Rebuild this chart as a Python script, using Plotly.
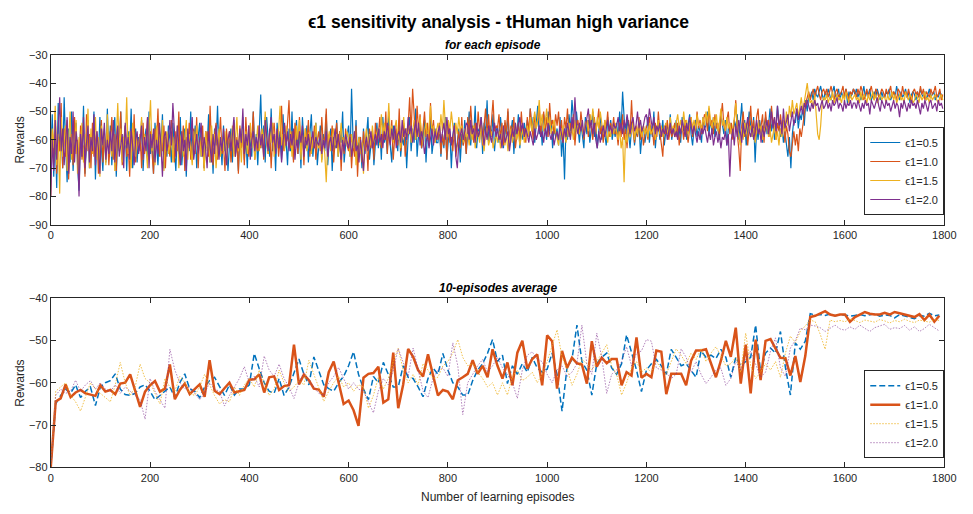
import plotly.graph_objects as go

# ---------------- data ----------------
labels = ["ϵ1=0.5", "ϵ1=1.0", "ϵ1=1.5", "ϵ1=2.0"]

# per-episode rewards (sampled every 3 episodes)
top_step = 3
top_e05 = [
-66,-51,-73,-58,-77,-47,-64,-55,-70,-45,-62,-75,-56,-68,-50,-71,-60,-54,-69,-78,
-57,-66,-48,-72,-61,-53,-70,-59,-64,-50,-74,-58,-67,-52,-63,-71,-56,-68,-49,-65,
-55,-69,-60,-52,-73,-58,-64,-50,-67,-61,-55,-71,-57,-63,-49,-70,-62,-56,-68,-59,
-64,-53,-71,-60,-56,-67,-50,-65,-58,-72,-54,-62,-69,-57,-63,-51,-70,-59,-66,-55,
-60,-68,-54,-63,-71,-57,-65,-52,-69,-61,-56,-73,-58,-64,-50,-67,-62,-55,-70,-59,
-54,-66,-61,-70,-57,-63,-51,-68,-59,-72,-56,-62,-48,-65,-60,-69,-55,-64,-58,-71,
-62,-56,-68,-53,-65,-60,-71,-57,-63,-52,-67,-59,-70,-55,-61,-66,-50,-64,-58,-69,
-57,-44,-63,-55,-68,-52,-60,-66,-49,-64,-58,-71,-54,-62,-57,-67,-51,-63,-60,-69,
-56,-64,-50,-67,-59,-53,-65,-57,-70,-52,-61,-63,-55,-68,-58,-51,-66,-60,-54,-69,
-62,-55,-67,-58,-64,-51,-69,-60,-56,-71,-59,-63,-53,-66,-57,-61,-50,-68,-62,-58,
-55,-66,-42,-60,-64,-53,-68,-59,-62,-70,-56,-65,-58,-52,-67,-61,-57,-69,-60,-54,
-63,-56,-67,-52,-61,-58,-65,-50,-62,-68,-55,-60,-57,-64,-53,-66,-59,-62,-56,-70,
-59,-52,-64,-56,-61,-49,-66,-58,-55,-63,-60,-53,-68,-57,-62,-51,-65,-59,-56,-61,
-61,-55,-66,-58,-63,-52,-67,-60,-57,-70,-59,-54,-64,-61,-56,-68,-58,-62,-53,-65,
-57,-50,-62,-55,-59,-48,-63,-56,-60,-52,-65,-54,-58,-46,-61,-55,-59,-51,-64,-57,
-55,-61,-52,-58,-63,-54,-60,-50,-62,-57,-53,-65,-56,-59,-51,-63,-55,-60,-54,-58,
-53,-59,-49,-57,-52,-61,-55,-48,-58,-54,-62,-51,-56,-60,-50,-57,-53,-63,-55,-59,
-56,-62,-52,-66,-58,-74,-55,-60,-51,-57,-46,-53,-59,-50,-56,-61,-54,-58,-63,-52,
-58,-53,-61,-56,-50,-59,-54,-63,-57,-51,-60,-55,-58,-62,-52,-57,-53,-60,-56,-59,
-54,-60,-50,-57,-43,-55,-61,-52,-58,-63,-56,-53,-62,-57,-59,-54,-65,-58,-55,-61,
-57,-52,-61,-55,-59,-50,-63,-56,-54,-60,-58,-53,-62,-57,-55,-59,-51,-60,-56,-58,
-53,-59,-56,-61,-52,-57,-54,-60,-55,-51,-58,-62,-56,-53,-59,-55,-57,-61,-52,-56,
-55,-50,-58,-53,-57,-52,-59,-54,-56,-60,-51,-55,-58,-53,-62,-56,-54,-57,-59,-53,
-56,-51,-60,-54,-47,-58,-53,-62,-57,-50,-55,-59,-52,-68,-56,-60,-53,-57,-61,-55,
-52,-58,-55,-49,-57,-53,-60,-56,-48,-54,-59,-55,-61,-57,-63,-66,-59,-70,-58,-53,
-54,-49,-56,-51,-53,-48,-55,-46,-50,-44,-45,-43,-46,-42,-44,-45,-43,-41,-44,-46,
-43,-45,-42,-44,-46,-43,-41,-45,-44,-42,-46,-43,-45,-44,-42,-47,-43,-45,-44,-42,
-44,-42,-45,-43,-46,-44,-41,-45,-43,-44,-42,-46,-44,-43,-45,-42,-44,-46,-43,-45,
-45,-43,-44,-42,-46,-44,-43,-45,-41,-44,-46,-43,-45,-44,-42,-45,-43,-47,-44,-43,
-44,-46,-43,-45,-42,-44,-45,-43,-46,-44,-42,-45,-44,-43,-46,-44,-45,-43,-44,-45,
]
top_e10 = [
-80,-57,-68,-50,-72,-59,-64,-47,-70,-56,-66,-53,-74,-61,-58,-69,-52,-65,-60,-71,
-55,-67,-62,-73,-51,-64,-58,-70,-54,-66,-60,-57,-72,-63,-53,-68,-59,-65,-56,-69,
-61,-52,-67,-58,-71,-56,-63,-50,-69,-60,-55,-66,-62,-73,-57,-64,-51,-68,-59,-63,
-58,-70,-54,-65,-60,-52,-67,-57,-63,-72,-56,-61,-49,-66,-59,-64,-55,-70,-58,-62,
-66,-53,-61,-68,-57,-64,-50,-69,-62,-55,-71,-59,-63,-54,-67,-60,-56,-65,-52,-70,
-59,-64,-55,-70,-61,-57,-66,-48,-63,-69,-58,-54,-67,-60,-52,-65,-62,-71,-56,-63,
-57,-68,-61,-54,-66,-59,-72,-55,-63,-58,-69,-52,-62,-66,-57,-60,-50,-67,-61,-64,
-55,-63,-58,-67,-52,-61,-65,-56,-70,-59,-54,-62,-57,-66,-60,-48,-64,-58,-62,-55,
-46,-63,-57,-68,-54,-60,-65,-52,-62,-58,-69,-56,-61,-53,-66,-59,-63,-55,-67,-60,
-57,-64,-52,-62,-59,-49,-66,-58,-61,-55,-68,-60,-54,-63,-57,-71,-59,-65,-56,-62,
-64,-58,-70,-61,-66,-55,-73,-62,-59,-68,-57,-64,-60,-71,-56,-63,-58,-67,-54,-61,
-58,-52,-63,-57,-60,-50,-65,-55,-61,-53,-67,-59,-56,-62,-49,-64,-58,-54,-66,-60,
-55,-45,-58,-42,-53,-60,-48,-57,-51,-63,-56,-50,-59,-54,-62,-47,-58,-53,-61,-56,
-60,-54,-65,-58,-62,-56,-67,-53,-61,-59,-64,-55,-66,-60,-57,-63,-52,-62,-58,-65,
-52,-58,-48,-56,-61,-54,-59,-50,-57,-53,-62,-55,-49,-58,-51,-60,-54,-46,-57,-55,
-56,-51,-60,-54,-62,-53,-58,-49,-61,-55,-59,-52,-63,-57,-54,-60,-50,-58,-56,-61,
-52,-57,-49,-55,-60,-51,-56,-53,-48,-58,-54,-50,-57,-52,-59,-47,-55,-53,-58,-51,
-55,-50,-58,-53,-61,-52,-56,-49,-59,-54,-57,-51,-62,-55,-53,-58,-50,-56,-60,-54,
-53,-59,-51,-56,-60,-52,-57,-54,-49,-58,-55,-61,-53,-56,-50,-59,-54,-57,-52,-58,
-57,-62,-54,-59,-51,-60,-56,-63,-53,-58,-46,-57,-61,-55,-59,-52,-60,-56,-62,-58,
-55,-60,-52,-58,-56,-62,-54,-59,-50,-57,-61,-66,-55,-58,-53,-60,-56,-59,-57,-54,
-59,-54,-62,-57,-55,-60,-53,-58,-61,-56,-52,-59,-55,-57,-50,-56,-53,-58,-54,-51,
-52,-57,-49,-55,-53,-58,-51,-56,-54,-59,-52,-47,-55,-57,-53,-50,-58,-54,-60,-52,
-46,-58,-63,-71,-55,-50,-59,-54,-62,-56,-48,-57,-53,-60,-52,-49,-58,-55,-51,-61,
-50,-56,-53,-59,-48,-55,-52,-60,-54,-57,-51,-56,-53,-61,-55,-58,-64,-66,-60,-57,
-62,-58,-64,-56,-59,-55,-50,-47,-45,-43,-46,-44,-42,-45,-43,-41,-44,-46,-43,-42,
-44,-42,-45,-43,-41,-44,-46,-43,-42,-45,-44,-43,-41,-45,-42,-44,-46,-43,-44,-42,
-43,-45,-42,-44,-41,-43,-46,-44,-42,-45,-43,-41,-44,-46,-42,-43,-45,-44,-42,-43,
-45,-42,-44,-43,-41,-45,-43,-44,-46,-42,-43,-45,-41,-44,-43,-45,-42,-44,-47,-43,
-42,-44,-43,-45,-41,-44,-42,-46,-43,-44,-45,-42,-44,-43,-41,-45,-44,-42,-46,-44,
]
top_e15 = [
-74,-56,-63,-48,-69,-58,-79,-52,-66,-60,-55,-71,-62,-50,-67,-57,-64,-53,-72,-59,
-61,-54,-68,-58,-63,-49,-70,-56,-65,-60,-52,-67,-59,-73,-55,-62,-57,-69,-51,-64,
-58,-66,-53,-71,-60,-47,-64,-56,-68,-59,-62,-45,-65,-57,-70,-54,-61,-66,-58,-63,
-60,-52,-67,-58,-63,-70,-56,-46,-64,-59,-69,-55,-62,-58,-66,-53,-71,-60,-57,-65,
-62,-56,-68,-59,-64,-55,-70,-61,-57,-66,-60,-53,-67,-58,-63,-69,-57,-62,-55,-65,
-59,-66,-61,-71,-57,-64,-60,-68,-55,-63,-58,-70,-62,-56,-66,-59,-64,-57,-69,-61,
-58,-63,-55,-66,-60,-52,-64,-59,-68,-56,-62,-57,-65,-60,-54,-63,-58,-67,-61,-55,
-64,-59,-56,-62,-50,-60,-65,-57,-61,-54,-66,-59,-63,-57,-48,-62,-58,-64,-55,-60,
-61,-57,-66,-59,-63,-55,-60,-53,-67,-58,-62,-56,-64,-60,-57,-65,-59,-62,-54,-61,
-63,-58,-68,-60,-65,-75,-61,-57,-64,-59,-56,-62,-58,-66,-60,-54,-63,-59,-61,-57,
-60,-66,-58,-63,-57,-69,-62,-59,-65,-61,-72,-60,-56,-64,-58,-62,-55,-61,-59,-57,
-56,-62,-51,-58,-54,-60,-57,-47,-59,-55,-61,-56,-53,-60,-58,-63,-57,-52,-59,-56,
-58,-55,-61,-57,-53,-60,-56,-59,-52,-58,-62,-57,-54,-60,-56,-48,-58,-55,-61,-57,
-54,-58,-51,-57,-46,-55,-59,-53,-57,-50,-56,-60,-54,-58,-52,-57,-55,-61,-56,-59,
-58,-62,-56,-60,-55,-63,-59,-57,-61,-54,-60,-64,-58,-56,-62,-59,-57,-63,-60,-58,
-61,-57,-63,-59,-55,-62,-58,-64,-60,-56,-61,-58,-54,-60,-57,-62,-59,-56,-61,-58,
-55,-59,-52,-57,-54,-50,-56,-53,-46,-55,-51,-57,-54,-49,-56,-52,-58,-55,-53,-57,
-59,-62,-56,-60,-55,-58,-61,-57,-54,-59,-56,-60,-53,-57,-55,-58,-54,-56,-59,-55,
-53,-57,-51,-55,-49,-54,-58,-52,-56,-50,-55,-58,-53,-57,-61,-56,-59,-55,-58,-54,
-57,-60,-56,-63,-59,-75,-58,-61,-55,-59,-57,-54,-60,-56,-58,-53,-57,-59,-55,-58,
-56,-59,-54,-58,-57,-55,-60,-56,-53,-58,-55,-59,-57,-54,-58,-56,-52,-57,-55,-59,
-54,-51,-56,-53,-57,-50,-55,-53,-58,-54,-52,-56,-53,-57,-51,-55,-54,-56,-52,-55,
-50,-54,-48,-53,-56,-52,-55,-51,-57,-54,-49,-55,-53,-57,-52,-56,-54,-58,-55,-53,
-47,-55,-58,-62,-56,-60,-54,-58,-53,-57,-55,-59,-56,-61,-57,-54,-58,-55,-60,-56,
-57,-54,-59,-56,-61,-58,-55,-60,-57,-62,-56,-59,-53,-57,-50,-55,-48,-52,-46,-51,
-49,-47,-52,-48,-45,-50,-46,-44,-40,-45,-47,-46,-49,-44,-52,-58,-60,-55,-47,-45,
-46,-44,-47,-45,-46,-43,-47,-45,-44,-46,-45,-47,-44,-46,-43,-45,-47,-44,-46,-45,
-44,-46,-45,-47,-43,-46,-44,-45,-47,-44,-46,-45,-43,-46,-44,-47,-45,-44,-46,-45,
-45,-47,-44,-46,-45,-43,-46,-44,-47,-45,-44,-46,-45,-47,-43,-45,-46,-44,-45,-47,
-46,-44,-45,-47,-44,-46,-45,-43,-46,-45,-47,-44,-46,-45,-44,-46,-47,-45,-44,-46,
]
top_e20 = [
-80,-60,-71,-53,-67,-58,-45,-64,-56,-69,-61,-52,-72,-59,-65,-50,-68,-57,-63,-80,
-58,-66,-52,-70,-61,-55,-68,-59,-64,-51,-69,-57,-63,-72,-56,-62,-54,-67,-60,-65,
-57,-64,-53,-68,-60,-55,-66,-61,-58,-70,-54,-63,-59,-67,-56,-62,-69,-60,-57,-65,
-61,-55,-67,-59,-64,-52,-70,-58,-63,-56,-68,-60,-65,-54,-62,-73,-59,-57,-64,-60,
-53,-62,-47,-58,-66,-55,-61,-69,-57,-64,-60,-71,-56,-63,-59,-52,-67,-61,-58,-65,
-60,-54,-66,-59,-63,-70,-57,-62,-68,-58,-65,-55,-61,-67,-59,-64,-56,-62,-69,-60,
-57,-64,-59,-52,-66,-60,-63,-56,-61,-49,-65,-58,-62,-55,-67,-60,-57,-64,-59,-63,
-55,-62,-58,-66,-53,-60,-64,-57,-52,-61,-58,-65,-56,-63,-59,-68,-60,-54,-62,-57,
-64,-58,-62,-56,-67,-60,-63,-57,-61,-55,-66,-59,-62,-58,-64,-60,-57,-63,-59,-61,
-62,-58,-65,-60,-63,-57,-66,-61,-59,-64,-60,-56,-63,-58,-62,-67,-60,-64,-58,-61,
-63,-59,-66,-61,-57,-64,-62,-68,-60,-65,-71,-62,-59,-64,-61,-57,-63,-60,-58,-62,
-56,-61,-58,-63,-57,-60,-54,-59,-62,-56,-60,-55,-63,-58,-57,-61,-53,-59,-56,-60,
-52,-58,-55,-61,-56,-53,-59,-54,-62,-57,-60,-65,-61,-58,-63,-59,-56,-62,-57,-60,
-58,-55,-61,-57,-54,-60,-52,-58,-56,-62,-59,-55,-66,-70,-61,-58,-56,-60,-57,-54,
-55,-60,-53,-58,-56,-61,-54,-59,-57,-52,-58,-62,-56,-60,-55,-58,-61,-57,-54,-59,
-56,-60,-58,-63,-55,-61,-59,-57,-64,-60,-56,-59,-54,-58,-55,-52,-57,-54,-59,-56,
-58,-61,-57,-59,-62,-56,-60,-58,-55,-59,-57,-61,-56,-59,-54,-58,-60,-57,-62,-59,
-57,-60,-55,-58,-61,-56,-59,-54,-57,-60,-52,-56,-45,-55,-58,-54,-57,-53,-59,-56,
-52,-49,-56,-53,-58,-54,-60,-63,-57,-61,-58,-55,-59,-56,-53,-57,-55,-58,-54,-56,
-55,-52,-57,-54,-58,-53,-56,-51,-55,-58,-54,-52,-57,-55,-50,-56,-53,-57,-55,-52,
-51,-55,-49,-53,-56,-52,-58,-55,-57,-54,-59,-56,-58,-55,-60,-57,-54,-58,-56,-59,
-57,-60,-55,-58,-53,-56,-59,-54,-57,-52,-56,-58,-55,-59,-61,-57,-60,-56,-58,-55,
-58,-61,-57,-60,-56,-62,-59,-57,-61,-58,-63,-59,-60,-57,-62,-58,-73,-60,-56,-62,
-55,-59,-53,-57,-61,-54,-58,-56,-52,-57,-59,-55,-60,-57,-53,-58,-56,-61,-55,-59,
-56,-53,-58,-54,-50,-56,-52,-57,-48,-55,-53,-58,-49,-56,-54,-51,-57,-53,-50,-55,
-52,-49,-53,-50,-48,-51,-47,-49,-46,-48,-50,-47,-49,-46,-48,-47,-50,-48,-46,-49,
-48,-46,-49,-47,-50,-46,-48,-47,-45,-49,-47,-48,-50,-46,-49,-47,-48,-46,-49,-47,
-47,-49,-46,-48,-50,-47,-49,-46,-48,-47,-51,-46,-48,-49,-47,-45,-48,-50,-46,-48,
-49,-46,-48,-47,-50,-48,-46,-49,-47,-48,-52,-47,-49,-46,-48,-50,-47,-49,-46,-48,
-47,-49,-46,-48,-51,-47,-49,-46,-48,-50,-47,-46,-49,-48,-47,-50,-46,-48,-47,-49,
]

# 10-episode averages
avg_step = 10
avg_e05 = [
-80,-65.0,-63.0,-61.5,-62.5,-60.5,-63.5,-62.0,-61.0,-65.4,
-61.0,-60.0,-59.5,-57.9,-61.5,-62.8,-63.0,-62.5,-61.0,-60.5,
-62.0,-64.0,-63.0,-62.0,-61.0,-63.5,-60.0,-57.9,-61.5,-62.0,
-63.5,-61.0,-59.5,-58.7,-61.0,-63.0,-60.5,-62.9,-61.5,-61.5,
-60.5,-53.1,-56.7,-60.0,-62.0,-62.5,-59.0,-63.0,-61.0,-57.5,
-54.4,-58.0,-60.5,-53.9,-57.0,-60.5,-61.4,-62.0,-60.0,-58.5,
-56.0,-52.7,-58.0,-61.5,-64.0,-58.5,-60.0,-55.2,-58.0,-61.0,
-61.0,-56.0,-58.7,-59.0,-61.0,-63.3,-59.0,-56.5,-58.0,-53.1,
-57.0,-60.0,-61.0,-62.9,-62.9,-59.5,-57.0,-55.5,-53.0,-49.8,
-55.0,-53.5,-60.2,-56.0,-58.0,-55.5,-57.5,-54.0,-56.5,-57.5,
-56.8,-53.0,-58.0,-66.7,-56.5,-54.5,-46.4,-55.0,-57.0,-62.9,
-55.5,-54.0,-53.0,-56.5,-58.0,-55.5,-48.7,-53.0,-57.0,-62.1,
-57.0,-55.5,-54.5,-56.0,-58.0,-52.1,-54.0,-56.0,-55.5,-57.0,
-58.7,-52.5,-54.0,-53.5,-54.3,-52.1,-54.0,-58.7,-54.0,-56.0,
-55.0,-54.0,-46.4,-57.5,-53.0,-51.8,-53.0,-47.9,-56.4,-62.9,
-50.6,-52.1,-50.2,-43.7,-44.0,-43.9,-44.1,-43.8,-44.2,-44.0,
-44.0,-44.3,-44.1,-43.9,-44.2,-44.0,-43.7,-44.3,-44.0,-44.1,
-44.7,-43.9,-44.2,-44.5,-44.9,-44.1,-44.3,-43.6,-44.2,-44.0,
]
avg_e10 = [
-80,-64.4,-63.7,-60.4,-63.4,-62.3,-61.7,-62.5,-62.8,-63.1,
-60.6,-62.1,-61.7,-62.7,-60.2,-60.0,-58.0,-62.0,-65.7,-62.1,
-60.6,-59.6,-62.1,-61.4,-55.7,-63.9,-61.7,-60.2,-62.7,-61.5,
-60.4,-63.3,-54.7,-61.9,-62.7,-61.3,-60.0,-62.3,-62.0,-61.7,
-59.3,-59.2,-58.0,-62.3,-58.7,-58.5,-61.7,-60.8,-60.6,-51.0,
-60.4,-58.1,-59.4,-61.4,-61.6,-63.3,-57.5,-55.0,-60.0,-65.0,
-64.2,-66.5,-70.2,-58.8,-57.9,-57.7,-56.2,-64.7,-63.9,-52.9,
-66.0,-60.4,-52.0,-53.9,-57.0,-58.5,-53.3,-57.9,-63.0,-61.7,
-62.1,-63.9,-59.4,-58.7,-57.9,-54.7,-57.9,-56.0,-58.7,-52.1,
-56.0,-59.0,-55.2,-60.6,-52.9,-50.1,-56.7,-54.4,-53.3,-60.6,
-48.8,-50.2,-61.4,-52.5,-56.5,-54.1,-55.4,-55.7,-60.2,-50.2,
-56.2,-54.1,-55.4,-54.4,-54.4,-60.6,-57.5,-58.3,-49.3,-58.8,
-57.9,-58.7,-52.4,-52.7,-62.7,-57.9,-57.9,-57.9,-60.6,-54.8,
-52.4,-52.4,-52.1,-55.6,-58.7,-54.8,-50.1,-53.9,-47.0,-60.2,
-51.0,-62.5,-49.8,-59.4,-50.1,-49.7,-52.1,-54.1,-54.2,-58.3,
-53.7,-59.8,-53.7,-44.5,-44.2,-43.7,-43.1,-43.9,-44.2,-43.9,
-43.9,-45.6,-44.5,-43.9,-43.3,-43.7,-43.9,-43.9,-43.5,-43.9,
-43.3,-43.6,-43.9,-44.1,-44.5,-43.8,-45.2,-43.9,-45.6,-44.2,
]
avg_e15 = [
-80,-62.0,-61.0,-60.0,-63.0,-64.5,-66.7,-63.5,-60.0,-61.5,
-62.5,-63.5,-64.5,-60.5,-55.2,-60.0,-63.0,-61.0,-55.6,-59.0,
-60.0,-62.5,-65.0,-59.0,-61.0,-62.0,-58.5,-60.0,-62.5,-63.0,
-61.0,-58.0,-60.5,-63.0,-65.0,-64.0,-64.5,-61.0,-63.0,-60.5,
-59.0,-61.0,-57.0,-60.0,-63.0,-61.5,-57.0,-60.0,-62.0,-61.0,
-59.5,-60.5,-54.7,-58.0,-61.0,-64.4,-62.0,-60.0,-58.5,-61.0,
-60.0,-62.0,-60.5,-61.0,-66.0,-63.0,-58.7,-61.5,-59.0,-55.0,
-51.9,-57.0,-60.0,-58.0,-60.5,-55.5,-57.0,-59.0,-58.7,-56.0,
-55.0,-53.0,-49.8,-54.0,-56.0,-55.5,-57.5,-59.0,-61.0,-60.0,
-62.9,-60.0,-62.9,-58.5,-57.0,-59.5,-58.7,-57.5,-60.0,-58.0,
-55.0,-51.5,-47.5,-54.0,-56.7,-60.6,-58.0,-54.5,-55.5,-57.0,
-55.0,-53.0,-51.0,-56.0,-58.0,-62.9,-60.0,-56.5,-55.0,-57.5,
-56.5,-57.5,-55.0,-56.7,-58.0,-55.0,-52.0,-53.5,-55.5,-53.0,
-54.5,-52.0,-55.0,-53.0,-51.5,-53.7,-56.0,-55.5,-54.0,-57.5,
-48.3,-56.0,-59.0,-57.5,-55.5,-57.0,-55.0,-58.7,-53.0,-49.0,
-50.5,-47.9,-46.5,-45.2,-45.6,-48.5,-52.1,-45.2,-45.6,-45.3,
-45.6,-45.0,-45.3,-45.8,-45.2,-45.5,-45.7,-45.1,-45.4,-45.9,
-45.3,-45.6,-45.0,-45.5,-45.8,-45.2,-45.4,-45.7,-45.1,-45.3,
]
avg_e20 = [
-80,-63.0,-61.5,-62.5,-62.0,-59.4,-62.0,-60.5,-59.5,-61.5,
-60.0,-61.5,-62.0,-60.5,-62.5,-61.0,-62.0,-63.0,-64.0,-68.6,
-59.0,-62.0,-64.0,-66.0,-52.1,-57.0,-60.0,-61.5,-61.0,-62.5,
-64.0,-62.5,-60.0,-61.5,-62.0,-65.5,-63.0,-61.0,-59.0,-56.2,
-60.0,-58.5,-61.0,-53.7,-57.0,-58.5,-55.6,-59.0,-61.0,-63.7,
-60.0,-57.5,-59.5,-61.0,-62.5,-63.0,-60.0,-58.5,-56.4,-59.0,
-61.5,-60.0,-61.5,-62.0,-64.5,-67.1,-62.0,-59.0,-60.5,-57.0,
-51.9,-55.0,-58.5,-51.8,-57.0,-62.0,-63.5,-59.0,-57.0,-56.5,
-58.5,-50.6,-56.0,-67.5,-60.0,-58.0,-56.0,-54.5,-57.5,-56.0,
-54.0,-56.5,-58.0,-60.0,-63.7,-57.0,-53.5,-52.7,-54.5,-55.0,
-58.0,-60.0,-57.0,-56.0,-58.5,-57.5,-55.5,-46.4,-55.5,-58.0,
-48.3,-54.0,-62.5,-58.0,-57.0,-55.0,-51.5,-56.0,-53.0,-52.5,
-49.8,-50.2,-56.5,-57.0,-57.7,-59.0,-58.0,-52.0,-54.0,-57.5,
-55.0,-58.0,-60.2,-58.7,-57.0,-56.5,-60.6,-59.0,-55.0,-57.0,
-54.5,-52.5,-55.5,-58.7,-57.5,-52.5,-49.4,-56.5,-58.5,-51.8,
-50.0,-47.1,-47.5,-46.4,-46.6,-47.0,-47.9,-47.2,-46.4,-47.3,
-47.6,-46.8,-47.4,-46.4,-47.2,-47.9,-47.0,-46.6,-46.2,-47.4,
-47.0,-47.2,-46.5,-47.6,-46.8,-47.9,-47.2,-46.2,-47.0,-47.8,
]

x_ticks = [0, 200, 400, 600, 800, 1000, 1200, 1400, 1600, 1800]
top_y_ticks = [-90, -80, -70, -60, -50, -40, -30]
bot_y_ticks = [-80, -70, -60, -50, -40]

# ---------------- figure ----------------
W, H = 973, 514
FONT = "Liberation Sans, Arial, Helvetica, sans-serif"
colors = ["#0072BD", "#D95319", "#EDB120", "#7E2F8E"]
bottom_colors = ["#0072BD", "#D95319", "rgba(237,177,32,0.8)", "rgba(126,47,142,0.6)"]
bottom_dash = ["6px,3px", "solid", "1.5px,1.5px", "1.5px,1.5px"]
bottom_width = [1.5, 2.5, 1.0, 1.0]

fig = go.Figure()
top_series = [top_e05, top_e10, top_e15, top_e20]
for name, ys, c in zip(labels, top_series, colors):
    xs = [i * top_step for i in range(len(ys))]
    fig.add_trace(go.Scatter(x=xs, y=ys, mode="lines", name=name,
                             line=dict(color=c, width=1.2),
                             xaxis="x", yaxis="y", legend="legend"))

avg_series = [avg_e05, avg_e10, avg_e15, avg_e20]
for name, ys, c, d, w in zip(labels, avg_series, bottom_colors, bottom_dash, bottom_width):
    xs = [i * avg_step for i in range(len(ys))]
    fig.add_trace(go.Scatter(x=xs, y=ys, mode="lines", name=name,
                             line=dict(color=c, width=w, dash=d),
                             xaxis="x2", yaxis="y2", legend="legend2"))

x0, x1 = 48.5 / W, 956 / W
def ydom(ptop, pbot):
    return [1 - pbot / H, 1 - ptop / H]

axis_common = dict(showline=True, linecolor="#262626", linewidth=1, mirror="ticks",
                   ticks="inside", ticklen=5, tickwidth=1, tickcolor="#262626",
                   tickfont=dict(family=FONT, size=11, color="#262626"),
                   showgrid=False, zeroline=False)

legend_common = dict(xanchor="right", yanchor="bottom", bgcolor="white",
                     bordercolor="#262626", borderwidth=1,
                     font=dict(family=FONT, size=11, color="#262626"),
                     tracegroupgap=0, itemwidth=30)

fig.update_layout(
    width=W, height=H,
    margin=dict(l=0, r=0, t=0, b=0),
    paper_bgcolor="white", plot_bgcolor="white",
    font=dict(family=FONT, color="#262626"),
    xaxis=dict(domain=[x0, x1], range=[0, 1800], tickvals=x_ticks, anchor="y", **axis_common),
    yaxis=dict(domain=ydom(50, 224), range=[-90, -30], tickvals=top_y_ticks, anchor="x", **axis_common),
    xaxis2=dict(domain=[x0, x1], range=[0, 1800], tickvals=x_ticks, anchor="y2", **axis_common),
    yaxis2=dict(domain=ydom(299, 472.5), range=[-80, -40], tickvals=bot_y_ticks, anchor="x2", **axis_common),
    legend=dict(x=956 / W, y=1 - 214 / H, **legend_common),
    legend2=dict(x=956 / W, y=1 - 463 / H, **legend_common),
    showlegend=True,
)

def ann(text, px, py, size, color="#000000", angle=0):
    fig.add_annotation(text=text, x=px / W, y=1 - py / H, xref="paper", yref="paper",
                       xanchor="center", yanchor="middle", showarrow=False,
                       textangle=angle, font=dict(family=FONT, size=size, color=color))

ann("<b>ϵ1 sensitivity analysis - tHuman high variance</b>", 503, 16, 17.5)
ann("<b><i>for each episode</i></b>", 498, 40, 12)
ann("<b><i>10-episodes average</i></b>", 503, 289, 12)
ann("Rewards", 17, 137, 12, "#262626", -90)
ann("Rewards", 17, 386, 12, "#262626", -90)
ann("Number of learning episodes", 502, 503, 12, "#262626")

fig.write_html("out.html")
